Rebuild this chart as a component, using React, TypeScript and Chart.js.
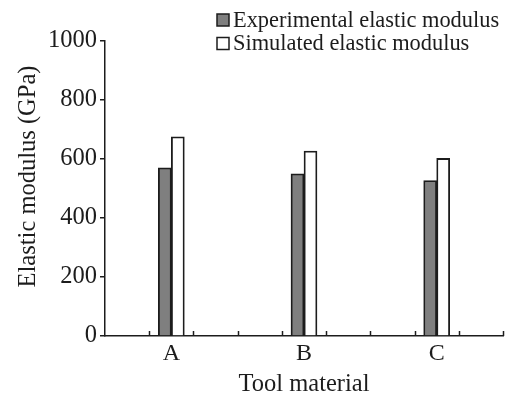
import React, { useEffect, useRef } from "react";
import { Chart, registerables } from "chart.js";

Chart.register(...registerables);

const categories = ["A", "B", "C"];
const experimentalModulus = [570, 550, 527];
const simulatedModulus = [675, 627, 602];
const seriesLabels = ["Experimental elastic modulus", "Simulated elastic modulus"];
const yTicks = [0, 200, 400, 600, 800, 1000];
const yTitle = "Elastic modulus (GPa)";
const xTitle = "Tool material";

const FONT = '"Liberation Serif", "Times New Roman", serif';
const INK = "#1c1c1c";

// Small upward tick marks along the x axis, three per category.
const minorTicks = {
  id: "minorTicks",
  afterDraw(chart: any) {
    const { ctx, chartArea } = chart;
    const n = chart.scales.x.ticks.length * 3;
    ctx.save();
    ctx.strokeStyle = INK;
    ctx.lineWidth = 1.5;
    for (let k = 1; k <= n; k++) {
      const px = Math.round(chartArea.left + ((chartArea.right - chartArea.left) * k) / n) + 0.5;
      ctx.beginPath();
      ctx.moveTo(px, chartArea.bottom);
      ctx.lineTo(px, chartArea.bottom - 5);
      ctx.stroke();
    }
    ctx.restore();
  },
};

// Vertical y-axis title, sitting a little above the plot's middle.
const yAxisTitle = {
  id: "yAxisTitle",
  afterDraw(chart: any) {
    const { ctx } = chart;
    ctx.save();
    ctx.translate(35, 176.5);
    ctx.rotate(-Math.PI / 2);
    ctx.font = `24.5px ${FONT}`;
    ctx.fillStyle = INK;
    ctx.textAlign = "center";
    ctx.textBaseline = "alphabetic";
    ctx.fillText(yTitle, 0, 0);
    ctx.restore();
  },
};

// Legend stacked in two left-aligned rows at the top right.
const stackedLegend = {
  id: "stackedLegend",
  afterDraw(chart: any) {
    const { ctx } = chart;
    const x0 = 217;
    const baselines = [26.5, 50];
    ctx.save();
    ctx.font = `22.4px ${FONT}`;
    ctx.textBaseline = "alphabetic";
    chart.data.datasets.forEach((ds: any, i: number) => {
      const b = baselines[i];
      ctx.fillStyle = ds.backgroundColor;
      ctx.fillRect(x0, b - 12.5, 12, 12);
      ctx.strokeStyle = INK;
      ctx.lineWidth = 1.5;
      ctx.strokeRect(x0, b - 12.5, 12, 12);
      ctx.fillStyle = INK;
      ctx.fillText(ds.label, x0 + 16, b);
    });
    ctx.restore();
  },
};

export default function App() {
  const canvasRef = useRef<HTMLCanvasElement | null>(null);

  useEffect(() => {
    if (!canvasRef.current) return;
    const chart = new Chart(canvasRef.current, {
      type: "bar",
      data: {
        labels: categories,
        datasets: [
          {
            label: seriesLabels[0],
            data: experimentalModulus,
            backgroundColor: "#7f7f7f",
            borderColor: INK,
            borderWidth: 1.8,
            barThickness: 13,
          },
          {
            label: seriesLabels[1],
            data: simulatedModulus,
            backgroundColor: "#ffffff",
            borderColor: INK,
            borderWidth: 1.8,
            barThickness: 13,
          },
        ],
      },
      options: {
        responsive: false,
        animation: false,
        layout: { padding: { top: 41, right: 5, bottom: 0, left: 0 } },
        plugins: {
          legend: { display: false },
          tooltip: { enabled: false },
        },
        scales: {
          x: {
            type: "category",
            offset: true,
            grid: { display: false, drawTicks: false },
            border: { display: true, color: INK, width: 1.5 },
            ticks: { color: INK, font: { family: FONT, size: 24 }, padding: 3 },
            title: {
              display: true,
              text: xTitle,
              color: INK,
              font: { family: FONT, size: 24.5, lineHeight: 1 },
              padding: { top: 0, bottom: 1 },
            },
            afterFit(scale: any) {
              scale.height = 62;
            },
          },
          y: {
            min: 0,
            max: 1000,
            afterBuildTicks(scale: any) {
              scale.ticks = yTicks.map((v) => ({ value: v }));
            },
            grid: {
              display: true,
              drawOnChartArea: false,
              drawTicks: true,
              tickLength: 5,
              color: INK,
              lineWidth: 1.5,
            },
            border: { display: true, color: INK, width: 1.5 },
            ticks: {
              color: INK,
              font: { family: FONT, size: 24.5 },
              padding: 3,
              callback: (v: any) => String(v),
            },
            title: { display: false },
            afterFit(scale: any) {
              scale.width = 105;
            },
          },
        },
      },
      plugins: [minorTicks, yAxisTitle, stackedLegend],
    });
    return () => chart.destroy();
  }, []);

  return (
    <div style={{ position: "absolute", left: 0, top: 0, width: 508, height: 398, background: "#fff" }}>
      <canvas ref={canvasRef} width={508} height={398} style={{ display: "block" }} />
    </div>
  );
}
